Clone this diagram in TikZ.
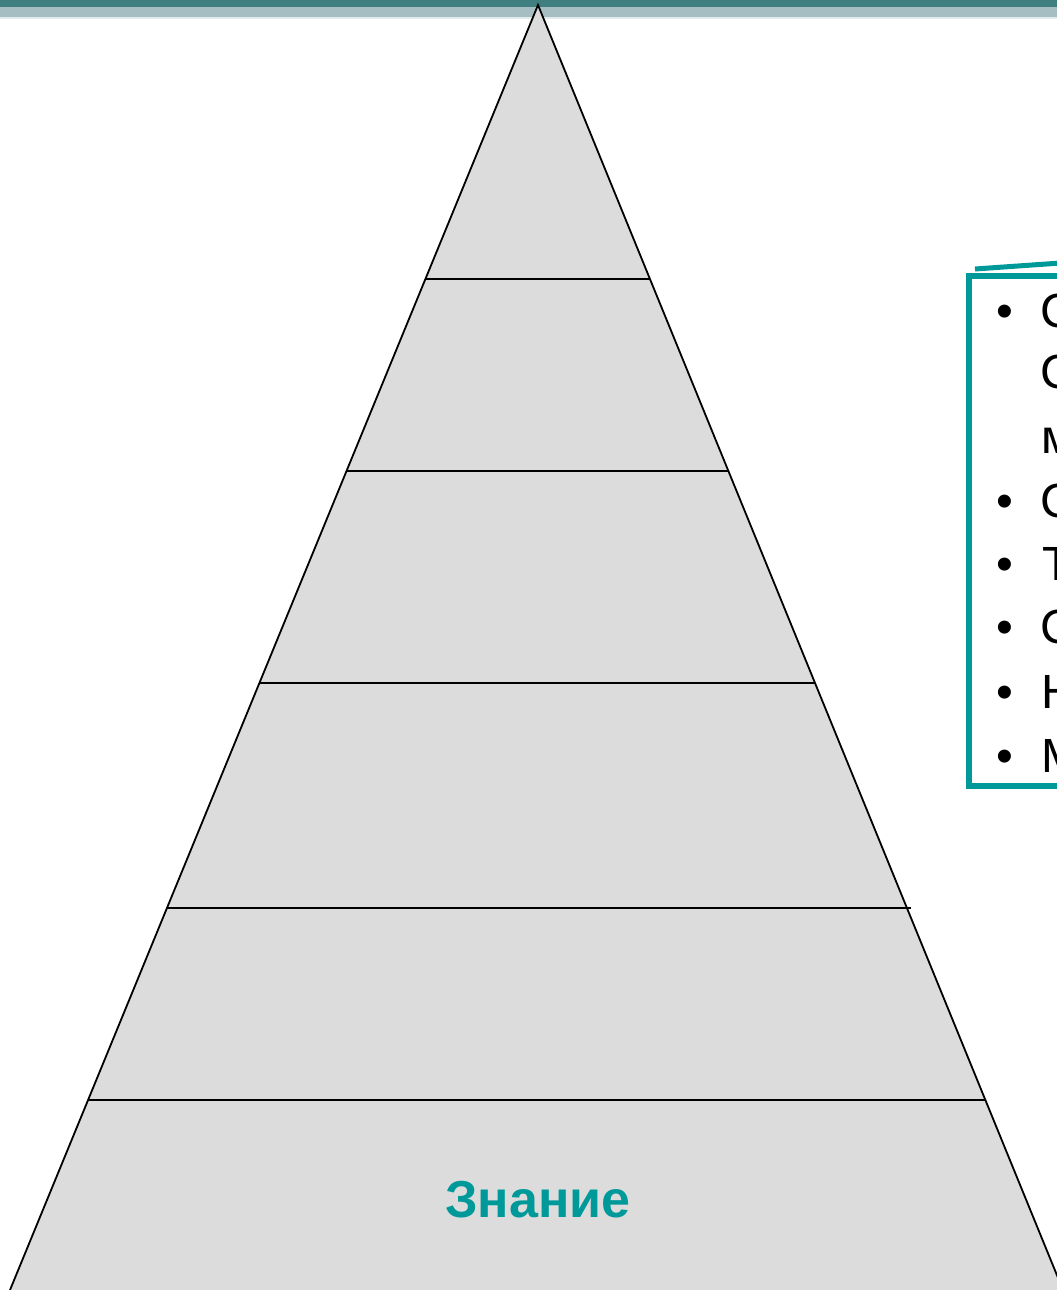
\documentclass[tikz,border=0pt]{standalone}
\usepackage{fontspec}
\setmainfont{Liberation Sans}
\usetikzlibrary{calc}
\definecolor{barDark}{RGB}{63,127,127}
\definecolor{barLight}{RGB}{166,190,194}
\definecolor{tealText}{RGB}{0,153,153}
\definecolor{pyrFill}{RGB}{220,220,220}
\begin{document}
\begin{tikzpicture}[x=1pt,y=-1pt,
  tierline/.style={draw=black,line width=1.6pt},
  sideline/.style={draw=black,line width=1.8pt,line join=miter},
  listtext/.style={anchor=base west,inner sep=0pt,font=\fontsize{48}{58}\selectfont},
  bulletmark/.style={anchor=base,inner sep=0pt,font=\fontsize{48}{58}\selectfont},
  boxline/.style={draw=tealText,line width=6pt}]
\useasboundingbox (0,0) rectangle (1057,1290);
\clip (0,0) rectangle (1057,1290);
% top bar
\fill[barDark] (0,0) rectangle (1057,7);
\fill[barLight] (0,7) rectangle (1057,17);
\fill[barLight!30] (0,17) rectangle (1057,19);
% pyramid
\coordinate (apex) at (538,5);
\coordinate (bl) at (10,1290);
\coordinate (br) at (1063,1290);
\fill[pyrFill] (bl) -- (apex) -- (br) -- cycle;
\draw[sideline] (bl) -- (apex) -- (br);
\foreach \t [count=\i] in {0.2132,0.3626,0.5276,0.7027,0.8521}{
  \coordinate (L\i) at ($(apex)!\t!(bl)$);
  \coordinate (R\i) at ($(apex)!\t!(br)$);
}
\coordinate (R4x) at ($(R4)+(4,0)$);
\draw[tierline] (L1) -- (R1);
\draw[tierline] (L2) -- (R2);
\draw[tierline] (L3) -- (R3);
\draw[tierline] (L4) -- (R4x);
\draw[tierline] (L5) -- (R5);
\node[anchor=base,inner sep=0pt,text=tealText,font=\fontsize{52}{60}\selectfont\bfseries] (znanie) at (538,1217) {Знание};
% text box
\coordinate (boxTL) at (969,276);
\coordinate (boxBR) at (1075,786);
\draw[boxline] (boxTL) rectangle (boxBR);
\coordinate (slA) at (975,269);
\coordinate (slB) at (1075,262);
\draw[draw=tealText,line width=5pt] (slA) -- (slB);
% list
\node[bulletmark] (b1) at (1005,327) {•};
\node[listtext] (t1) at (1040,327) {С};
\node[listtext] (t2) at (1040,388) {С};
\node[listtext] (t3) at (1041,453) {м};
\node[bulletmark] (b4) at (1005,517) {•};
\node[listtext] (t4) at (1040,517) {С};
\node[bulletmark] (b5) at (1005,580) {•};
\node[listtext] (t5) at (1042,580) {Т};
\node[bulletmark] (b6) at (1005,643) {•};
\node[listtext] (t6) at (1040,643) {С};
\node[bulletmark] (b7) at (1005,708) {•};
\node[listtext] (t7) at (1041,708) {Н};
\node[bulletmark] (b8) at (1005,772) {•};
\node[listtext] (t8) at (1041,772) {М};
\end{tikzpicture}
\end{document}
